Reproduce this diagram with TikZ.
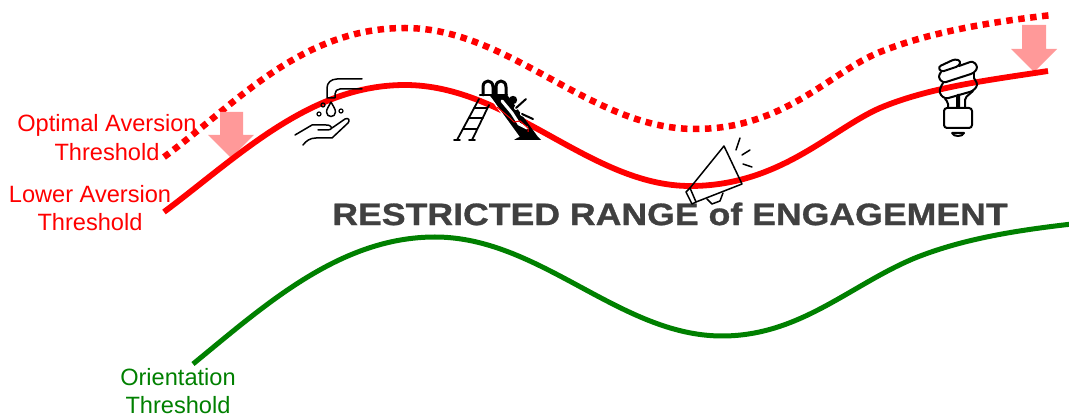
\documentclass[tikz,border=0pt]{standalone}
\usepackage{fontspec}
\setmainfont{Liberation Sans}
\newfontfamily\titlefont{Liberation Sans}[BoldFeatures={FakeBold=0.9}]
\definecolor{arrowpink}{HTML}{FF9999}
\definecolor{titlegray}{HTML}{404040}
\definecolor{greenline}{HTML}{008000}
\tikzset{
  curveline/.style={line width=#1,line join=round},
  lbl/.style={align=center,inner sep=0pt,font=\fontsize{23.6}{28.5}\selectfont},
  icon/.style={black,line width=1.5pt,line cap=round,line join=round},
  blockarrow/.style={fill=arrowpink,draw=none},
}
\begin{document}
\begin{tikzpicture}[x=1pt,y=-1pt]
\useasboundingbox (0,0) rectangle (1069,419);
\clip (0,0) rectangle (1069,419);
% dotted threshold
\draw[red,line width=6.5pt,dash pattern=on 6.5pt off 5.5pt] (164,157) .. controls (235,105) and (300,28) .. (405,28) .. controls (510,28) and (590,129) .. (695,129) .. controls (785,129) and (830,72) .. (880,52) .. controls (930,32) and (990,22) .. (1052,15);
% arrows
\fill[blockarrow] (220,112)--(243,112)--(243,135)--(254,135)--(231,158)--(208,135)--(220,135)--cycle;
\fill[blockarrow] (1022,25)--(1046,25)--(1046,49)--(1057,49)--(1034,72)--(1011,49)--(1022,49)--cycle;
% solid threshold
\draw[red,curveline=5.8pt] (164,212) .. controls (240,155) and (310,85) .. (405,85) .. controls (510,85) and (590,186) .. (690,186) .. controls (780,186) and (830,130) .. (880,108) .. controls (930,87) and (990,80) .. (1048,71);
% green
\draw[greenline,curveline=5pt] (193,364) .. controls (265,305) and (340,237) .. (435,237) .. controls (540,237) and (620,336) .. (722,336) .. controls (800,336) and (850,285) .. (915,258) .. controls (965,238) and (1020,230) .. (1072,224);
% title
\node[inner sep=0pt,font=\titlefont\fontsize{31}{31}\bfseries\selectfont,text=titlegray,xscale=1.15,transform shape] (title) at (670,214) {RESTRICTED RANGE of ENGAGEMENT};
% labels
\node[lbl,text=red] (optimal) at (107,137.5) {Optimal Aversion\\Threshold};
\node[lbl,text=red] (lower) at (90,208) {Lower Aversion\\Threshold};
\node[lbl,text=greenline] (orient) at (178,391) {Orientation\\Threshold};
% faucet and hand
\draw[icon] (362,79)--(337,79) .. controls (331,79) and (327,83) .. (327,88)--(327,98)--(335,98)--(335,94) .. controls (335,91) and (337,89) .. (340,89)--(362,89);
\draw[icon] (331,102) .. controls (333,106) and (335.5,109) .. (335.5,112) .. controls (335.5,118) and (326.5,118) .. (326.5,112) .. controls (326.5,109) and (329,106) .. (331,102);
\draw[icon,line width=1.2pt] (323,105) circle (2) (319,114) circle (2) (341,111) circle (2);
\draw[icon] (295,135)--(312,125)--(326,125) .. controls (333,125) and (333,130) .. (328,130)--(318,130);
\draw[icon] (332,128)--(345,119) .. controls (349,117) and (350,121) .. (348,123)--(332,138)--(316,138) .. controls (310,138) and (306,141) .. (303,145);
% slide
\draw[icon,line width=1.8pt] (457,140)--(479,99) (472,140)--(489,105) (454,140)--(460,140) (469,140)--(475,140);
\draw[icon,line width=1.8pt] (463,129)--(477,129) (469,118)--(483,118) (474,108)--(487,108);
\draw[icon,line width=2.4pt] (480,95)--(507,95);
\draw[icon,line width=3pt] (483,95)--(483,87) .. controls (483,79) and (493,79) .. (493,87)--(493,95) (496,95)--(496,87) .. controls (496,79) and (506,79) .. (506,87)--(506,95);
\fill[black] (490,96)--(508,96)--(538,137)--(541,140)--(514,140)--(519,137)--cycle;
\draw[white,line width=1.3pt] (490,97)--(519,137);
\draw[white,line width=3pt,line cap=round] (502,101)--(512,113)--(519,124)--(527,128);
\draw[red,line width=1pt] (497,107)--(510,118)--(514,122)--(520,121)--(528,128)--(528,132);
\draw[white,line width=4pt,line cap=round] (516,108)--(526,98) (522,114)--(533,119);
\draw[black,line width=2pt,line cap=round] (516,108)--(526,99) (522,114)--(533,119);
\fill[black] (513,100) circle (4.2);
% megaphone
\draw[icon] (724,146)--(742,184)--(696,202)--(690,188)--cycle;
\draw[icon] (690,188)--(686,192)--(692,204)--(696,202);
\draw[icon] (707,199)--(712,204)--(720,201)--(723,193);
\draw[icon] (740,138)--(736,150) (750,150)--(742,155) (752,167)--(743,164);
% bulb
\begin{scope}[icon,line width=2pt]
\draw[rounded corners=3pt] (941,72)--(938,67)--(955,59)--(961,61)--(959,66)--cycle;
\draw[rounded corners=3pt] (959,66)--(973,61)--(978,67)--(974,73)--(943,83)--(938,77)--(941,72);
\draw[rounded corners=3pt] (974,78)--(978,85)--(973,91)--(945,99)--(939,93)--(941,86)--(943,83);
\draw (974,73)--(974,78);
\draw[rounded corners=2pt] (945,99)--(948,102)--(948,108);
\draw[rounded corners=2pt] (957,108)--(957,96)--(959,94)--(959,108);
\draw[rounded corners=2pt] (965,108)--(965,98)--(973,91);
\draw[rounded corners=3pt] (944,108) rectangle (972,128);
\draw (952,133)--(964,133) .. controls (963,137) and (953,137) .. (952,133);
\end{scope}
\end{tikzpicture}
\end{document}
